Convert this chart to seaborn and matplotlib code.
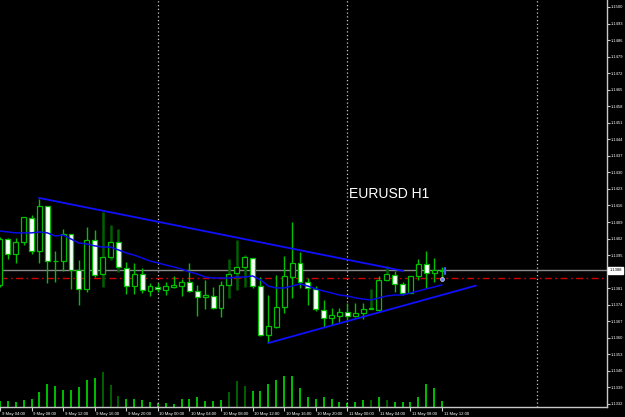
import numpy as np
import pandas as pd
import matplotlib
matplotlib.use("Agg")
import matplotlib.pyplot as plt
import matplotlib.transforms as mtransforms
import seaborn as sns

# ---------------- data (EURUSD H1, 9 May 04:00 .. 11 May 12:00) ----------------
opens = [1.13824, 1.14018, 1.13955, 1.14005, 1.14107, 1.13967, 1.14158, 1.13925, 1.13925, 1.14039,
         1.13887, 1.13807, 1.14014, 1.13870, 1.13942, 1.14005, 1.13895, 1.13819, 1.13870, 1.13798,
         1.13815, 1.13802, 1.13815, 1.13819, 1.13836, 1.13798, 1.13773, 1.13777, 1.13726, 1.13824,
         1.13874, 1.13900, 1.13938, 1.13819, 1.13612, 1.13646, 1.13730, 1.13857, 1.13917, 1.13836,
         1.13807, 1.13718, 1.13684, 1.13692, 1.13709, 1.13692, 1.13705, 1.13722, 1.13718, 1.13845,
         1.13866, 1.13828, 1.13790, 1.13862, 1.13912, 1.13874, 1.13887]
highs = [1.14027, 1.14022, 1.14022, 1.14111, 1.14120, 1.14187, 1.14158, 1.13967, 1.14060, 1.14039,
         1.13929, 1.14069, 1.14056, 1.14132, 1.14077, 1.14060, 1.13921, 1.13917, 1.13895, 1.13832,
         1.13832, 1.13836, 1.13862, 1.13849, 1.13917, 1.13824, 1.13845, 1.13815, 1.13840, 1.13934,
         1.14014, 1.13950, 1.13938, 1.13857, 1.13781, 1.13866, 1.13946, 1.14090, 1.13963, 1.13853,
         1.13819, 1.13760, 1.13726, 1.13726, 1.13747, 1.13747, 1.13747, 1.13807, 1.13862, 1.13904,
         1.13883, 1.13836, 1.13862, 1.13934, 1.13967, 1.13938, 1.13900]
lows = [1.13815, 1.13934, 1.13917, 1.13993, 1.13955, 1.13917, 1.13832, 1.13836, 1.13883, 1.13807,
        1.13739, 1.13794, 1.13857, 1.13815, 1.13929, 1.13879, 1.13785, 1.13785, 1.13790, 1.13777,
        1.13794, 1.13781, 1.13811, 1.13777, 1.13794, 1.13692, 1.13722, 1.13722, 1.13688, 1.13769,
        1.13802, 1.13815, 1.13811, 1.13608, 1.13578, 1.13642, 1.13705, 1.13769, 1.13811, 1.13739,
        1.13713, 1.13646, 1.13654, 1.13667, 1.13667, 1.13688, 1.13680, 1.13722, 1.13713, 1.13840,
        1.13794, 1.13781, 1.13790, 1.13845, 1.13811, 1.13836, 1.13845]
closes = [1.14018, 1.13955, 1.14005, 1.14111, 1.13967, 1.14158, 1.13925, 1.13925, 1.14039, 1.13887,
          1.13807, 1.14014, 1.13866, 1.13942, 1.14005, 1.13900, 1.13819, 1.13870, 1.13802, 1.13819,
          1.13807, 1.13819, 1.13824, 1.13836, 1.13798, 1.13773, 1.13781, 1.13726, 1.13824, 1.13870,
          1.13900, 1.13942, 1.13819, 1.13612, 1.13650, 1.13730, 1.13862, 1.13917, 1.13836, 1.13811,
          1.13722, 1.13684, 1.13697, 1.13709, 1.13692, 1.13705, 1.13722, 1.13724, 1.13845, 1.13870,
          1.13828, 1.13790, 1.13862, 1.13912, 1.13874, 1.13887, 1.13883]
volumes = [600, 600, 500, 700, 800, 1500, 2300, 2100, 1700, 1700,
           2000, 2700, 2900, 3500, 2200, 1100, 800, 800, 700, 500,
           400, 400, 300, 800, 800, 1000, 600, 600, 700, 1500,
           2600, 2100, 1600, 1600, 2300, 2700, 3100, 3100, 1900, 1000,
           800, 1000, 800, 500, 400, 500, 700, 700, 1000, 700,
           500, 500, 500, 1000, 2300, 1900, 600]
dark_bars = [13, 14, 15, 29, 30, 31, 47, 49]
moving_avg = [1.14052, 1.14048, 1.14044, 1.14044, 1.14044, 1.14048, 1.14044, 1.14031, 1.14035, 1.14018,
              1.14001, 1.13997, 1.13989, 1.13984, 1.13984, 1.13972, 1.13959, 1.13950, 1.13938, 1.13925,
              1.13917, 1.13908, 1.13900, 1.13891, 1.13879, 1.13870, 1.13857, 1.13853, 1.13853, 1.13853,
              1.13857, 1.13857, 1.13862, 1.13845, 1.13819, 1.13811, 1.13811, 1.13819, 1.13828, 1.13819,
              1.13807, 1.13798, 1.13790, 1.13781, 1.13777, 1.13769, 1.13764, 1.13760, 1.13769, 1.13777,
              1.13781, 1.13781, 1.13790, 1.13798, 1.13807, 1.13815, 1.13824]
upper_trend_x = [4.93, 51.1]
upper_trend_y = [1.14192, 1.13883]
lower_trend_x = [34.0, 60.3]
lower_trend_y = [1.13578, 1.13821]
day_separators = [20, 44, 68]
bid_price = 1.13885
level_price = 1.13853
bid_label = "1.1388"
time_tick_pos = [0, 4, 8, 12, 16, 20, 24, 28, 32, 36, 40, 44, 48, 52, 56]
time_tick_labels = ["9 May 04:00", "9 May 08:00", "9 May 12:00", "9 May 16:00", "9 May 20:00",
                    "10 May 00:00", "10 May 04:00", "10 May 08:00", "10 May 12:00", "10 May 16:00",
                    "10 May 20:00", "11 May 00:00", "11 May 04:00", "11 May 08:00", "11 May 12:00"]
price_ticks = [1.1332, 1.1339, 1.1346, 1.1353, 1.1360, 1.1367, 1.1374, 1.1381, 1.1388, 1.1395,
               1.1402, 1.1409, 1.1416, 1.1423, 1.1430, 1.1437, 1.1444, 1.1451, 1.1458, 1.1465,
               1.1472, 1.1479, 1.1486, 1.1493, 1.1500]
title = "EURUSD H1"

# ---------------- style ----------------
sns.set_theme(style="dark")
plt.rcParams["font.family"] = ["Liberation Sans", "DejaVu Sans"]

GREEN = "#00c000"
DARKGREEN = "#006000"
BLUE = "#1010ff"

df = pd.DataFrame({"idx": np.arange(len(opens)), "open": opens, "high": highs,
                   "low": lows, "close": closes, "vol": volumes, "ma": moving_avg})
df["dark"] = df["idx"].isin(dark_bars)

W, H = 625, 417
fig = plt.figure(figsize=(W / 100, H / 100), dpi=100, facecolor="black")
rect = [0, 10 / H, 607 / W, 407 / H]
ax_vol = fig.add_axes(rect)
ax = fig.add_axes(rect, sharex=ax_vol)
for a in (ax, ax_vol):
    a.set_facecolor("none")
    a.grid(False)
ax_vol.set_facecolor("black")
ax_vol.set_zorder(0)
ax.set_zorder(1)

xmin, xmax = 0.126, 76.9
ax.set_xlim(xmin, xmax)
ax.set_ylim(1.133071, 1.150296)
ax_vol.set_ylim(0, 40700)

# volumes
vcol = [DARKGREEN if d else GREEN for d in df["dark"]]
ax_vol.vlines(df["idx"], 0, df["vol"], colors=vcol, lw=1.4)
ax_vol.set_yticks([])
for s in ax_vol.spines.values():
    s.set_visible(False)
ax_vol.tick_params(axis="x", bottom=False, labelbottom=False)

# separators and horizontal lines
for d in day_separators:
    ax.axvline(d, color="#c8c8c8", lw=0.9, ls=(0, (1, 2)), zorder=1)
ax.axhline(bid_price, color="#8a8a8a", lw=1.0, zorder=1)
ax.axhline(level_price, color="#d00000", lw=1.0, ls=(0, (5, 2.5, 1.2, 2.5)), zorder=1)

# candles
for r in df.itertuples():
    wc = DARKGREEN if r.dark else GREEN
    ax.vlines(r.idx, r.low, r.high, colors=wc, lw=1.8 if r.dark else 1.0, zorder=2)
    bull = r.close >= r.open
    ax.bar(r.idx, abs(r.close - r.open), bottom=min(r.open, r.close), width=0.62,
           color="black" if bull else "white", edgecolor=GREEN, linewidth=0.9, zorder=3)

# moving average and trend lines
sns.lineplot(data=df, x="idx", y="ma", ax=ax, color="#0a0ae6", lw=1.1, zorder=4)
ax.plot(upper_trend_x, upper_trend_y, color=BLUE, lw=1.3, zorder=4)
ax.plot(lower_trend_x, lower_trend_y, color=BLUE, lw=1.3, zorder=4)
ax.plot([56.4, 56.4], [1.13896, 1.13871], color="#4060ff", lw=1.5, zorder=5)
ax.scatter([56.05], [1.13850], s=8, color="#6080ff", edgecolors="white", linewidths=0.4, zorder=5)

# axes decoration
ax.set_xlabel("")
ax.set_ylabel("")
for k in ("top", "left"):
    ax.spines[k].set_visible(False)
for k in ("right", "bottom"):
    ax.spines[k].set_visible(True)
    ax.spines[k].set_color("#c8c8c8")
    ax.spines[k].set_linewidth(1.0)

ax.yaxis.tick_right()
ax.set_yticks(price_ticks)
ax.set_yticklabels(["" if abs(p - 1.1388) < 1e-6 else f"{p:.4f}" for p in price_ticks])
ax.tick_params(axis="y", right=True, left=False, colors="#c8c8c8", labelcolor="white",
               length=2, width=0.8, pad=0.8, labelsize=3.0)
ax.set_xticks(time_tick_pos)
ax.set_xticklabels(time_tick_labels)
ax.tick_params(axis="x", bottom=True, colors="#c8c8c8", labelcolor="white",
               length=3, width=0.8, pad=0.5, labelsize=3.1)
off = mtransforms.ScaledTranslation(1.5 / 100, 0, fig.dpi_scale_trans)
for lab in ax.get_xticklabels():
    lab.set_horizontalalignment("left")
    lab.set_transform(lab.get_transform() + off)

# current bid box
trans = mtransforms.blended_transform_factory(ax.transAxes, ax.transData)
ax.text(1.0045, bid_price, bid_label, transform=trans, ha="left", va="center",
        fontsize=3.0, color="black", zorder=10, clip_on=False,
        bbox=dict(boxstyle="square,pad=0.3", fc="white", ec="white"))

# title
ax.text(349 / 607, (407 - 198) / 407, title, transform=ax.transAxes, color="white",
        fontsize=10, ha="left", va="baseline", zorder=6)

fig.savefig("out.png", dpi=100, facecolor="black")
